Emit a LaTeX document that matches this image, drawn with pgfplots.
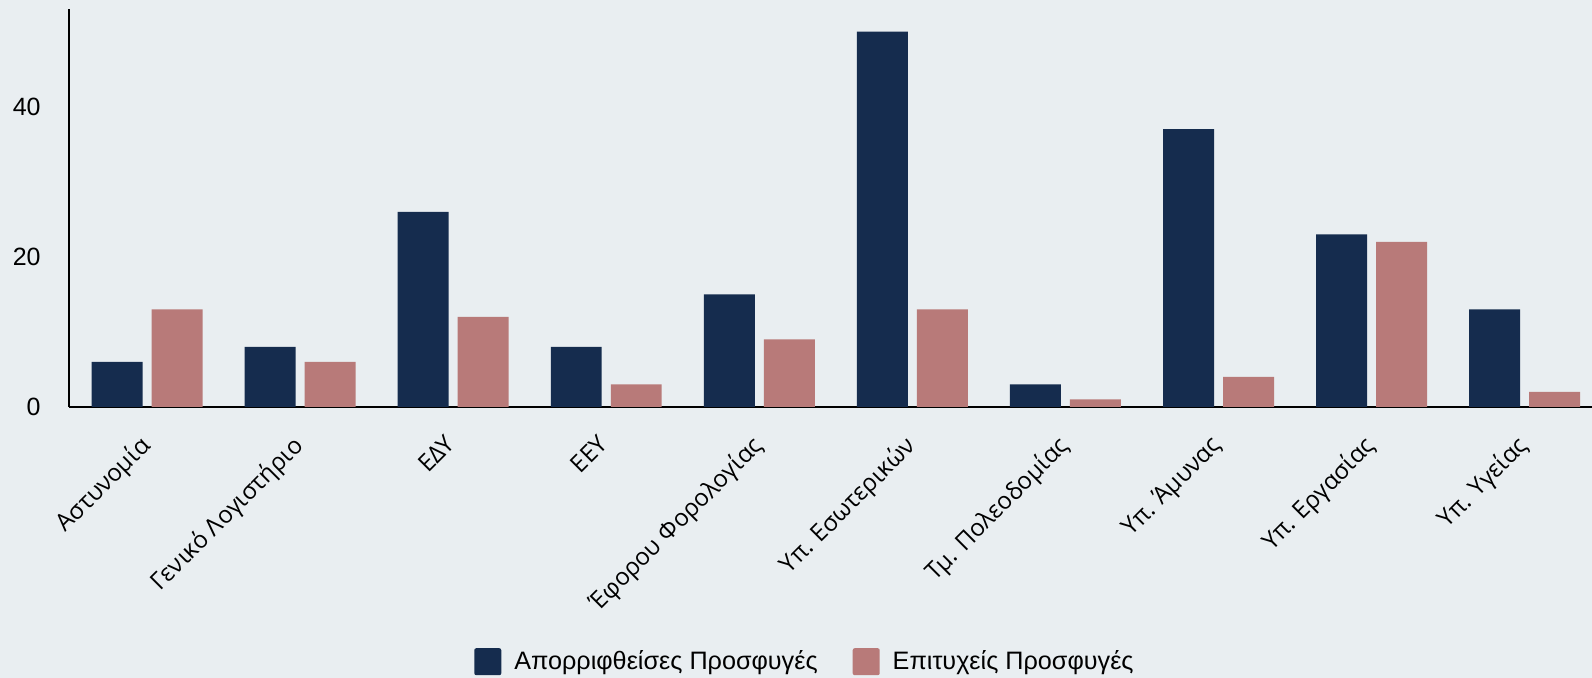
\documentclass[border=0pt]{standalone}
\usepackage{fontspec}
\setmainfont{Liberation Sans}
\newfontfamily\labelfont{Open Sans}
\usepackage{pgfplots}
\pgfplotsset{compat=1.18}

\definecolor{navy}{RGB}{21,44,78}
\definecolor{rose}{RGB}{184,122,121}
\definecolor{bg}{RGB}{233,238,241}

\pgfplotstableread{
x rejected success
0 6 13
1 8 6
2 26 12
3 8 3
4 15 9
5 50 13
6 3 1
7 37 4
8 23 22
9 13 2
}\datatable

\begin{document}
\fontsize{12}{14}\selectfont
\begin{tikzpicture}
% 1 px of the reference = 0.5pt
\fill[bg] (-34.5pt,-135.5pt) rectangle (761.5pt,203.5pt);
\begin{axis}[
    at={(0,0)}, anchor=south west,
    scale only axis,
    width=761.5pt,
    height=199pt,
    ybar,
    bar width=0.333,
    xmin=-0.51, xmax=9.44,
    ymin=0, ymax=53,
    axis x line*=bottom,
    axis y line*=left,
    axis line style={-, black, line width=1pt},
    xtick=data,
    xticklabels={Αστυνομία, Γενικό Λογιστήριο, ΕΔΥ, ΕΕΥ, Έφορου Φορολογίας, Υπ. Εσωτερικών, Τμ. Πολεοδομίας, Υπ. Άμυνας, Υπ. Εργασίας, Υπ. Υγείας},
    xticklabel style={font=\labelfont\fontsize{12}{14}\selectfont, rotate=45, anchor=north east, inner sep=0pt, yshift=-6pt, xshift=-12.5pt},
    ytick={0,20,40},
    yticklabel style={font=\fontsize{12.5}{14}\selectfont, xshift=-10pt},
    /pgf/number format/assume math mode=true,
    major tick length=0pt,
    legend style={at={(0.4839,-0.64)}, anchor=center, draw=none, fill=none,
        font=\fontsize{12.6}{15}\selectfont,
        legend columns=2,
        /tikz/every even column/.append style={column sep=15.5pt}},
    legend image code/.code={\fill[#1, rounded corners=1pt] (0pt,-6.75pt) rectangle (13.5pt,6.75pt);
        \path (18pt,0pt);},
    legend cell align=left,
]
\addplot[fill=navy, draw=none, bar shift=-0.196] table[x=x, y=rejected] {\datatable};
\addlegendentry{Απορριφθείσες Προσφυγές}
\addplot[fill=rose, draw=none, bar shift=0.196] table[x=x, y=success] {\datatable};
\addlegendentry{Επιτυχείς Προσφυγές}
\end{axis}
\pgfresetboundingbox
\path (-34.5pt,-135.5pt) rectangle (761.5pt,203.5pt);
\end{tikzpicture}
\end{document}
